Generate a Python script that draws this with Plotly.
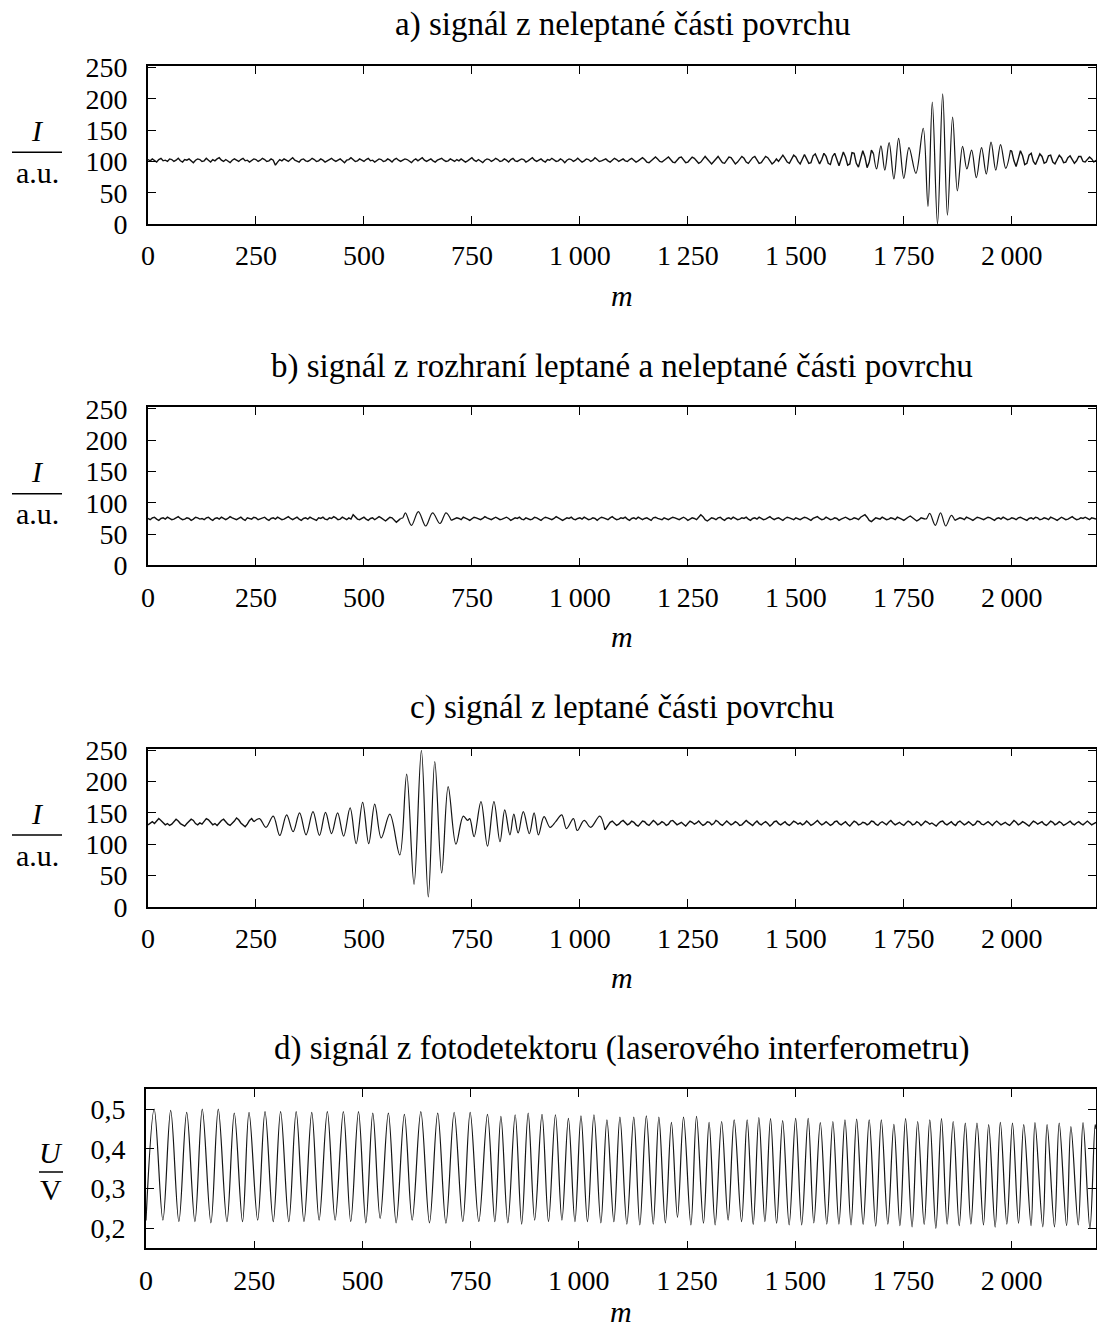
import plotly.graph_objects as go

W, H = 1097, 1331

# ---------------- data ----------------
M_MAX = 2195
x_ticks = [0, 250, 500, 750, 1000, 1250, 1500, 1750, 2000]
x_tick_text = ["0", "250", "500", "750", "1\u2009000", "1\u2009250", "1\u2009500", "1\u2009750", "2\u2009000"]
i_ticks = [0, 50, 100, 150, 200, 250]
u_ticks = [0.2, 0.3, 0.4, 0.5]
u_tick_text = ["0,2", "0,3", "0,4", "0,5"]

titles = [
    "a) signál z neleptané části povrchu",
    "b) signál z rozhraní leptané a neleptané části povrchu",
    "c) signál z leptané části povrchu",
    "d) signál z fotodetektoru (laserového interferometru)",
]

STEP = 5  # spacing of the sampled stretches, in m

# a) unetched surface: sampled stretch from m = 0 to 1680
a_flat_start = 0
a_flat = [
    103, 101, 104, 102, 99, 103, 105, 101, 102, 100, 104, 103, 100, 102, 105, 101, 99, 103, 102, 104,
    101, 98, 102, 104, 103, 100, 101, 105, 102, 99, 103, 101, 104, 106, 102, 100, 103, 101, 98, 102,
    104, 102, 100, 103, 105, 101, 102, 99, 101, 104, 103, 100, 102, 105, 103, 100, 101, 104, 102, 94,
    99, 103, 101, 104, 102, 100, 103, 106, 102, 101, 99, 103, 104, 101, 100, 102, 105, 103, 100, 101,
    104, 102, 99, 101, 103, 105, 102, 100, 102, 104, 101, 98, 102, 103, 106, 103, 100, 101, 104, 102,
    100, 103, 105, 101, 102, 99, 102, 104, 103, 100, 101, 104, 102, 99, 103, 105, 102, 100, 102, 104,
    103, 100, 98, 102, 104, 101, 103, 106, 102, 100, 102, 104, 101, 99, 102, 103, 105, 102, 100, 101,
    104, 102, 100, 103, 101, 104, 102, 99, 101, 104, 106, 102, 100, 103, 101, 98, 102, 104, 103, 100,
    102, 105, 103, 100, 101, 104, 102, 99, 103, 105, 101, 100, 102, 104, 103, 99, 101, 103, 106, 102,
    100, 102, 104, 101, 99, 103, 102, 105, 103, 100, 101, 104, 102, 98, 102, 104, 103, 100, 102, 105,
    102, 99, 101, 104, 103, 100, 102, 106, 103, 100, 101, 103, 104, 101, 99, 102, 105, 103, 100, 102,
    104, 101, 100, 103, 105, 102, 99, 101, 104, 106, 103, 99, 98, 101, 104, 107, 104, 100, 99, 102,
    105, 107, 103, 99, 98, 102, 106, 107, 102, 98, 99, 103, 107, 105, 101, 97, 99, 104, 108, 104,
    99, 96, 100, 105, 108, 103, 98, 97, 102, 107, 106, 100, 96, 99, 104, 108, 105, 99, 97, 101,
    106, 108, 102, 97, 98, 103, 108, 106, 100, 96, 99, 104,
    100, 106, 110, 105, 99, 97, 103, 110, 107, 100, 96, 105, 111, 104, 97, 98, 109, 112, 103, 96,
    103, 113, 108, 97, 95, 108, 113, 101, 93, 104, 115, 107, 94, 96, 114, 113, 97, 91, 104, 117,
    107, 90, 99, 118, 112,
]
# a) central fringe packet: maxima and minima (m, I)
a_fr_m = [1687, 1697, 1706, 1716, 1727, 1738, 1750, 1762, 1778, 1795, 1806, 1816, 1828, 1840,
          1851, 1863, 1874, 1886, 1896, 1907, 1918, 1930, 1941, 1952, 1963, 1974, 1986, 1997]
a_fr_v = [88, 125, 86, 130, 72, 137, 73, 122, 81, 153, 28, 195, 0, 208,
          14, 171, 53, 124, 88, 118, 74, 122, 80, 131, 86, 127, 89, 118]
# a) sampled tail from m = 2000
a_tail_start = 2000
a_tail = [
    116, 101, 92, 104, 117, 109, 95, 97, 110, 113, 100, 95, 103, 112, 108, 97, 99, 109, 110, 99,
    96, 104, 110, 106, 98, 99, 106, 109, 102, 97, 101, 108, 108, 100, 99, 104, 107, 104, 99, 102,
]

# b) boundary between etched and unetched surface
b_flat1_start = 0
b_flat1 = [
    75, 73, 76, 77, 74, 72, 75, 76, 74, 77, 75, 73, 74, 76, 78, 75, 73, 74, 76, 75,
    72, 74, 77, 76, 74, 75, 73, 76, 77, 74, 72, 75, 76, 74, 77, 75, 73, 75, 78, 76,
    74, 73, 75, 77, 74, 72, 76, 75, 74, 77, 76, 73, 74, 75, 77, 74, 72, 75, 76, 74,
    77, 75, 73, 74, 76, 78, 75, 73, 75, 77, 74, 72, 75, 76, 74, 77, 75, 74, 72, 76,
    75, 77, 74, 73, 76, 75, 78, 76, 73, 74, 77, 75, 73, 76, 74, 81, 77, 74, 73, 75,
    77, 74, 72, 75, 76, 73, 75, 78, 76, 73, 71, 74, 77, 76, 72, 69, 72, 75,
]
b_fr1_m = [590, 596, 610, 626, 643, 659, 676, 690, 702]
b_fr1_v = [76, 84, 64, 86, 63, 84, 67, 84, 72]
b_flat2_start = 710
b_flat2 = [
    74, 76, 75, 73, 77, 76, 74, 72, 75, 77, 76, 74, 73, 75, 78, 76, 74, 73, 75, 77,
    75, 73, 74, 76, 77, 75, 72, 74, 76, 75, 77, 74, 73, 76, 75, 73, 74, 77, 76, 74,
    72, 75, 77, 76, 74, 73, 75, 78, 76, 74, 72, 74, 76, 75, 77, 74, 73, 75, 76, 74,
    77, 75, 73, 74, 76, 75, 72, 75, 77, 76, 74, 73, 76, 78, 75, 73, 74, 76, 75, 77,
    74, 72, 75, 76, 74, 77, 75, 73, 75, 76, 74, 72, 76, 77, 75, 74, 73, 76, 75, 73,
    75, 77, 76, 74, 73, 75, 77, 75, 72, 74, 76, 75, 73, 77, 81, 78, 73, 71, 74, 76,
    75, 73, 76, 77, 74, 72, 75, 76, 74, 77, 75, 73, 74, 76, 75, 77, 74, 72, 75, 76,
    74, 77, 75, 73, 74, 76, 78, 75, 73, 75, 76, 74, 72, 75, 77, 76, 74, 73, 76, 75,
    73, 75, 77, 76, 74, 72, 75, 76, 78, 75, 73, 74, 77, 75, 73, 74, 76, 75, 72, 74,
    76, 77, 75, 73, 74, 76, 75, 73, 77, 79, 81, 77, 72, 70, 73, 76, 75, 74, 77, 75,
    73, 74, 76, 75, 73, 77, 76, 74, 72, 75, 77, 79, 76, 73, 71, 73, 76, 75, 74,
]
b_fr2_m = [1803, 1810, 1823, 1835, 1847, 1860, 1868]
b_fr2_v = [75, 83, 64, 84, 63, 80, 72]
b_flat3_start = 1875
b_flat3 = [
    74, 76, 75, 73, 77, 76, 74, 72, 75, 77, 76, 74, 73, 75, 77, 76, 74, 72, 75, 76,
    74, 77, 75, 73, 74, 76, 75, 73, 76, 77, 75, 74, 72, 75, 76, 74, 77, 76, 73, 74,
    76, 75, 73, 77, 76, 74, 72, 75, 77, 75, 73, 74, 76, 78, 75, 73, 74, 76, 75, 77,
    75, 73, 76, 75, 74,
]

# c) etched surface
c_flat1_start = 0
c_flat1 = [
    131, 134, 136, 133, 137, 141, 138, 134, 131, 133, 130, 132, 137, 140, 137, 133, 131, 129, 133, 136,
    140, 138, 133, 131, 134, 132, 136, 141, 139, 134, 131, 133, 130, 134, 138, 140, 136, 132, 130, 133,
    137, 142, 139, 134, 131, 128, 132, 138, 141, 136,
]
c_fr_m = [258, 273, 290, 305, 321, 336, 351, 366, 382, 397, 411, 425, 439, 453,
          468, 482, 497, 511, 525, 540, 560, 583, 599, 616, 633, 649, 664, 680, 695,
          713, 730, 740, 745, 755, 771, 786, 801, 815, 826, 838, 847, 857, 869, 883,
          894, 904, 917, 931, 944, 958, 969, 985, 994, 1010, 1025, 1046, 1058]
c_fr_v = [141, 127, 145, 114, 147, 120, 150, 115, 152, 114, 151, 117, 150, 113,
          158, 101, 167, 101, 164, 110, 148, 83, 212, 36, 250, 16, 232, 54, 192,
          100, 145, 138, 141, 112, 168, 97, 168, 104, 155, 115, 148, 118, 152, 117,
          150, 115, 144, 127, 136, 147, 125, 141, 122, 138, 127, 145, 123]
c_flat2_start = 1065
c_flat2 = [
    131, 135, 137, 134, 130, 132, 136, 138, 134, 131, 133, 137, 135, 131, 129, 133, 137, 136, 132, 130,
    134, 138, 135, 131, 133, 136, 134, 130, 132, 137, 138, 134, 131, 133, 135, 132, 129, 133, 137, 135,
    132, 134, 137, 133, 130, 132, 136, 135, 131, 133, 138, 136, 132, 130, 134, 137, 134, 131, 133, 136,
    134, 130, 131, 135, 138, 135, 132, 130, 134, 137, 133, 131, 134, 136, 133, 129, 132, 136, 137, 133,
    131, 134, 136, 132, 130, 133, 137, 135, 132, 134, 131, 133, 137, 134, 130, 132, 135, 138, 134, 131,
    133, 136, 133, 130, 132, 136, 137, 133, 131, 134, 136, 132, 129, 133, 137, 135, 131, 132, 135, 134,
    131, 133, 137, 136, 132, 130, 134, 136, 133, 131, 135, 138, 134, 131, 133, 135, 132, 130, 134, 137,
    135, 131, 132, 136, 134, 130, 133, 137, 135, 132, 134, 131, 129, 133, 136, 137, 133, 131, 134, 136,
    132, 130, 135, 137, 134, 131, 133, 136, 133, 130, 132, 137, 136, 132, 131, 134, 136, 133, 130, 134,
    137, 134, 131, 133, 135, 132, 130, 134, 138, 135, 131, 133, 136, 134, 131, 129, 133, 137, 135, 132,
    134, 136, 132, 130, 133, 137, 135, 131, 133, 136, 134, 130, 132, 135, 137, 133, 131, 134, 136, 133,
    131, 134, 137, 134, 131, 133, 135,
]

# d) photodetector voltage: first/last samples and fringe maxima / minima
d_ends_m = [0, 2195]
d_ends_v = [0.220, 0.450]
d_max_m = [19, 57, 94, 130, 167, 204, 238, 275, 311, 347, 383, 419, 456, 491,
           524, 560, 597, 635, 674, 712, 749, 789, 820, 853, 883, 915, 946, 976, 1005,
           1035, 1065, 1095, 1127, 1156, 1185, 1214, 1242, 1272, 1301, 1330, 1359,
           1389, 1416, 1443, 1471, 1501, 1530, 1558, 1587, 1615, 1642, 1671, 1699, 1728,
           1755, 1783, 1811, 1838, 1865, 1893, 1920, 1947, 1974, 2002, 2028, 2054, 2082,
           2110, 2137, 2165, 2193]
d_max_v = [0.500, 0.497, 0.492, 0.500, 0.500, 0.490, 0.492, 0.494, 0.494, 0.494, 0.492, 0.494, 0.494, 0.494,
           0.490, 0.490, 0.487, 0.494, 0.490, 0.492, 0.492, 0.487, 0.482, 0.486, 0.490, 0.487, 0.486, 0.477, 0.483,
           0.486, 0.473, 0.480, 0.480, 0.483, 0.480, 0.467, 0.480, 0.482, 0.467, 0.469, 0.473,
           0.473, 0.479, 0.476, 0.471, 0.477, 0.477, 0.466, 0.469, 0.473, 0.475, 0.473, 0.473, 0.462,
           0.476, 0.469, 0.473, 0.476, 0.469, 0.465, 0.465, 0.461, 0.467, 0.465, 0.461, 0.466, 0.461,
           0.465, 0.456, 0.466, 0.461]
d_min_m = [39, 76, 113, 150, 187, 223, 258, 294, 330, 365, 400, 437, 473, 508,
           541, 578, 615, 655, 693, 732, 769, 806, 836, 868, 898, 930, 961, 991, 1020,
           1051, 1081, 1111, 1141, 1172, 1200, 1228, 1259, 1288, 1315, 1345,
           1376, 1403, 1430, 1457, 1486, 1515, 1543, 1573, 1601, 1629, 1657, 1686, 1714,
           1742, 1770, 1798, 1825, 1851, 1879, 1906, 1935, 1962, 1989, 2016, 2045, 2072,
           2099, 2127, 2154, 2181]
d_min_v = [0.221, 0.217, 0.217, 0.214, 0.217, 0.217, 0.221, 0.217, 0.217, 0.217, 0.221, 0.221, 0.217, 0.214,
           0.225, 0.214, 0.221, 0.214, 0.213, 0.217, 0.217, 0.217, 0.214, 0.211, 0.221, 0.217, 0.221, 0.217, 0.217,
           0.214, 0.217, 0.211, 0.209, 0.211, 0.214, 0.228, 0.209, 0.213, 0.209, 0.221,
           0.217, 0.210, 0.217, 0.213, 0.209, 0.209, 0.214, 0.211, 0.211, 0.209, 0.210, 0.206, 0.211,
           0.207, 0.204, 0.210, 0.200, 0.211, 0.207, 0.211, 0.209, 0.203, 0.211, 0.213, 0.207, 0.204,
           0.204, 0.207, 0.209, 0.200]


# ---------------- helpers ----------------
def sampled(start, vals):
    """Evenly sampled stretch, drawn with straight segments."""
    return ("linear", [start + k * STEP for k in range(len(vals))], list(vals))


def extrema(ms, vs):
    """Fringe maxima/minima, joined by a smooth curve."""
    pts = sorted(zip(ms, vs))
    return ("spline", [p[0] for p in pts], [p[1] for p in pts])


def px(x):
    return x / W


def py(y):
    return 1 - y / H


panels = [
    [sampled(a_flat_start, a_flat), extrema(a_fr_m, a_fr_v), sampled(a_tail_start, a_tail)],
    [sampled(b_flat1_start, b_flat1), extrema(b_fr1_m, b_fr1_v),
     sampled(b_flat2_start, b_flat2), extrema(b_fr2_m, b_fr2_v),
     sampled(b_flat3_start, b_flat3)],
    [sampled(c_flat1_start, c_flat1), extrema(c_fr_m, c_fr_v), sampled(c_flat2_start, c_flat2)],
    [extrema(d_ends_m + d_max_m + d_min_m, d_ends_v + d_max_v + d_min_v)],
]

# panel boxes in pixels: left, right, top, bottom
boxes = [
    (148, 1096, 65.7, 224.0),
    (148, 1096, 407.1, 565.4),
    (148, 1096, 748.5, 906.8),
    (146, 1096, 1089.3, 1248.3),
]
y_ranges = [[0, 253], [0, 253], [0, 253], [0.15, 0.55]]
# fraction bar of the y label: (y, x-centre, x0, x1)
frac_bars = [(152.3, 37, 12, 62), (493.7, 37, 12, 62), (835.1, 37, 12, 62), (1172.0, 51, 39, 63)]

FONT = "Liberation Serif"
TICK_SIZE = 28
TITLE_SIZE = 33

fig = go.Figure()
layout = dict(
    width=W, height=H,
    margin=dict(l=0, r=0, t=0, b=0, pad=0, autoexpand=False),
    paper_bgcolor="white", plot_bgcolor="white",
    showlegend=False,
    font=dict(family=FONT, size=TICK_SIZE, color="black"),
)

annotations = []
shapes = []

for i, (segments, (l, r, t, b)) in enumerate(zip(panels, boxes)):
    sfx = "" if i == 0 else str(i + 1)
    xa, ya = "x" + sfx, "y" + sfx
    prev = None
    for shape, ms, vs in segments:
        xs, ys = list(ms), list(vs)
        if prev is not None:  # join onto the previous stretch
            xs.insert(0, prev[0])
            ys.insert(0, prev[1])
        prev = (ms[-1], vs[-1])
        if shape == "spline":
            line = dict(color="#151515", width=1.2, shape="spline", smoothing=1.0)
        else:
            line = dict(color="#111111", width=1.4, shape="linear")
        fig.add_trace(go.Scatter(
            x=xs, y=ys, mode="lines", line=line,
            xaxis=xa, yaxis=ya, hoverinfo="skip", cliponaxis=True,
        ))
    layout["xaxis" + sfx] = dict(
        domain=[px(l), px(r)], range=[0, M_MAX], anchor=ya, automargin=False,
        tickmode="array", tickvals=x_ticks, ticktext=x_tick_text,
        ticks="inside", ticklen=8, tickwidth=1.3, tickcolor="black",
        showline=True, linecolor="black", linewidth=1.6, mirror="allticks",
        showgrid=False, zeroline=False, ticklabelstandoff=6,
        tickfont=dict(family=FONT, size=TICK_SIZE, color="black"),
    )
    if i < 3:
        yt, ytt = i_ticks, [str(v) for v in i_ticks]
    else:
        yt, ytt = u_ticks, u_tick_text
    layout["yaxis" + sfx] = dict(
        domain=[py(b), py(t)], range=y_ranges[i], anchor=xa, automargin=False,
        tickmode="array", tickvals=yt, ticktext=ytt,
        ticks="inside", ticklen=8, tickwidth=1.3, tickcolor="black",
        showline=True, linecolor="black", linewidth=1.6, mirror="allticks",
        showgrid=False, zeroline=False, ticklabelstandoff=13,
        tickfont=dict(family=FONT, size=TICK_SIZE, color="black"),
    )
    cx = (l + r) / 2
    # panel title
    annotations.append(dict(
        text=titles[i], x=px(cx), y=py(t - 41), xref="paper", yref="paper",
        xanchor="center", yanchor="middle", showarrow=False,
        font=dict(family=FONT, size=TITLE_SIZE, color="black"),
    ))
    # x-axis title (the lowest one is kept inside the page)
    m_y = b + 71
    if m_y + 18 > H:
        m_lab = dict(y=py(H - 1), yanchor="bottom")
    else:
        m_lab = dict(y=py(m_y), yanchor="middle")
    annotations.append(dict(
        text="<i>m</i>", x=px(cx), xref="paper", yref="paper",
        xanchor="center", showarrow=False,
        font=dict(family=FONT, size=30, color="black"), **m_lab,
    ))
    # y-axis label written as a fraction
    bar_y, fx, x0, x1 = frac_bars[i]
    if i < 3:
        num, den, dn, dd = "<i>I</i>", "a.u.", 22, 20
    else:
        num, den, dn, dd = "<i>U</i>", "V", 20, 17
    annotations.append(dict(
        text=num, x=px(fx), y=py(bar_y - dn), xref="paper", yref="paper",
        xanchor="center", yanchor="middle", showarrow=False,
        font=dict(family=FONT, size=30, color="black"),
    ))
    annotations.append(dict(
        text=den, x=px(fx), y=py(bar_y + dd), xref="paper", yref="paper",
        xanchor="center", yanchor="middle", showarrow=False,
        font=dict(family=FONT, size=30, color="black"),
    ))
    shapes.append(dict(
        type="line", xref="paper", yref="paper",
        x0=px(x0), x1=px(x1), y0=py(bar_y), y1=py(bar_y),
        line=dict(color="black", width=1.5),
    ))

layout["annotations"] = annotations
layout["shapes"] = shapes
fig.update_layout(**layout)
fig.write_html("out.html")
